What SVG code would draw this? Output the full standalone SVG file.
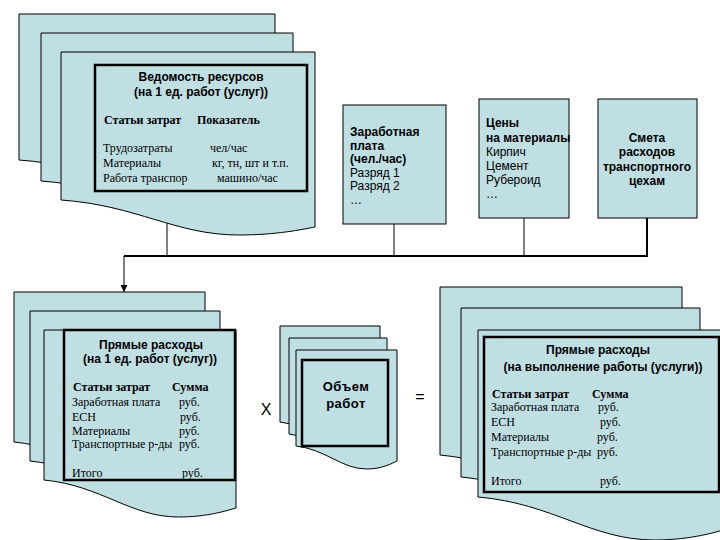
<svg xmlns="http://www.w3.org/2000/svg" width="720" height="540" viewBox="0 0 720 540">
<style>
.doc{fill:#BFDFE3;stroke:#000;stroke-width:1}
.inner{fill:#BFDFE3;stroke:#000;stroke-width:2.5}
.box{fill:#BFDFE3;stroke:#000;stroke-width:1}
.sb{font-family:"Liberation Sans",Arial,sans-serif;font-weight:bold;font-size:12px;fill:#000}
.sr{font-family:"Liberation Sans",Arial,sans-serif;font-size:12px;fill:#000}
.tb{font-family:"Liberation Serif","Times New Roman",serif;font-weight:bold;font-size:12px;fill:#000}
.tr{font-family:"Liberation Serif","Times New Roman",serif;font-size:12px;fill:#000}
.c{text-anchor:middle}
.ln{fill:none;stroke:#000;stroke-width:1}
.lt{fill:none;stroke:#000;stroke-width:2}
</style>
<defs>
<marker id="arr" viewBox="0 0 10 10" refX="10" refY="5" markerWidth="7" markerHeight="7" markerUnits="userSpaceOnUse" orient="auto">
<path d="M0,0 L10,5 L0,10 Z" fill="#000"/>
</marker>
</defs>

<g id="connectors">
<line class="ln" x1="167" y1="219" x2="167" y2="256"/>
<line class="ln" x1="394" y1="224" x2="394" y2="256"/>
<line class="ln" x1="524" y1="218" x2="524" y2="256"/>
<line class="lt" x1="647" y1="218" x2="647" y2="256"/>
<line class="lt" x1="124" y1="256" x2="648" y2="256"/>
<line class="ln" x1="124" y1="256" x2="124" y2="292" marker-end="url(#arr)"/>
</g>

<g id="resources">
<path class="doc" d="M19,14 H275 V187 C262.2,189.4 236.6,195 198.2,195 C134.2,195 95.8,165.3 19,160 Z"/>
<path class="doc" d="M41,33 H293 V208 C280.4,210.4 255.2,216 217.4,216 C154.4,216 116.6,186.3 41,181 Z"/>
<path class="doc" d="M61,52 H315 V227 C302.3,229.4 276.9,235 238.8,235 C175.3,235 137.2,205.3 61,200 Z"/>
<rect class="inner" x="95" y="65" width="212" height="126"/>
<text class="sb c" x="201" y="81">Ведомость ресурсов</text>
<text class="sb c" x="201" y="96">(на 1 ед. работ (услуг))</text>
<text class="tb" x="104" y="124">Статьи затрат</text>
<text class="tb" x="197" y="124">Показатель</text>
<text class="tr" x="103" y="152">Трудозатраты</text>
<text class="tr" x="103" y="167">Материалы</text>
<text class="tr" x="103" y="182">Работа транспор</text>
<text class="tr" x="210" y="152">чел/час</text>
<text class="tr" x="212" y="167">кг, тн, шт и т.п.</text>
<text class="tr" x="217" y="182">машино/час</text>
</g>

<g id="wage">
<rect class="box" x="343" y="105" width="103" height="119"/>
<text class="sb" x="350" y="136">Заработная</text>
<text class="sb" x="350" y="149.5">плата</text>
<text class="sb" x="350" y="163">(чел./час)</text>
<text class="sr" x="350" y="176.5">Разряд 1</text>
<text class="sr" x="350" y="190">Разряд 2</text>
<text class="sr" x="350" y="203.5">…</text>
</g>

<g id="prices">
<rect class="box" x="479" y="99" width="90" height="119"/>
<text class="sb" x="486" y="127">Цены</text>
<text class="sb" x="486" y="142">на материалы</text>
<text class="sr" x="486" y="156">Кирпич</text>
<text class="sr" x="486" y="170">Цемент</text>
<text class="sr" x="486" y="184">Рубероид</text>
<text class="sr" x="486" y="198">…</text>
</g>

<g id="estimate">
<rect class="box" x="598" y="99" width="99" height="119"/>
<text class="sb c" x="647" y="142">Смета</text>
<text class="sb c" x="647" y="156">расходов</text>
<text class="sb c" x="647" y="171">транспортного</text>
<text class="sb c" x="647" y="185">цехам</text>
</g>

<g id="direct-unit">
<path class="doc" d="M14,292 H205 V470 C195.45,472.7 176.35,479 147.7,479 C99.95,479 71.3,447.6 14,442 Z"/>
<path class="doc" d="M30,311 H220 V489 C210.5,491.7 191.5,498 163,498 C115.5,498 87,466.6 30,461 Z"/>
<path class="doc" d="M44,330 H236 V508 C226.4,510.7 207.2,517 178.4,517 C130.4,517 101.6,485.6 44,480 Z"/>
<rect class="inner" x="64" y="330" width="171" height="150"/>
<text class="sb c" x="151" y="349">Прямые расходы</text>
<text class="sb c" x="150" y="363">(на 1 ед. работ (услуг))</text>
<text class="tb" x="73" y="391">Статьи затрат</text>
<text class="tb" x="172" y="391">Сумма</text>
<text class="tr" x="72" y="406">Заработная плата</text>
<text class="tr" x="72" y="421">ЕСН</text>
<text class="tr" x="72" y="435">Материалы</text>
<text class="tr" x="72" y="448">Транспортные р-ды</text>
<text class="tr" x="72" y="477">Итого</text>
<text class="tr" x="179" y="406">руб.</text>
<text class="tr" x="180" y="421">руб.</text>
<text class="tr" x="179" y="435">руб.</text>
<text class="tr" x="179" y="448">руб.</text>
<text class="tr" x="182" y="477">руб.</text>
</g>

<text id="times" class="sr c" x="266" y="415" style="font-size:16px">X</text>

<g id="volume">
<path class="doc" d="M280,326 H380 V437 C375,439.4 365,445 350,445 C325,445 310,425.5 280,422 Z"/>
<path class="doc" d="M289,338 H387 V449 C382.1,451.4 372.3,457 357.6,457 C333.1,457 318.4,437.5 289,434 Z"/>
<path class="doc" d="M296,350 H397 V461 C391.95,463.4 381.85,469 366.7,469 C341.45,469 326.3,449.5 296,446 Z"/>
<rect class="inner" x="302" y="360" width="86" height="86"/>
<text class="sb c" x="346" y="391" style="font-size:13px;letter-spacing:0.5px">Объем</text>
<text class="sb c" x="346" y="408" style="font-size:13px;letter-spacing:0.5px">работ</text>
</g>

<text id="equals" class="sr c" x="420" y="402" style="font-size:16px">=</text>

<g id="direct-total">
<path class="doc" d="M440,287 H682 V486 C669.9,489.6 645.7,498 609.4,498 C548.9,498 512.6,461.5 440,455 Z"/>
<path class="doc" d="M461,308 H700 V508 C688.05,511.6 664.15,520 628.3,520 C568.55,520 532.7,483.5 461,477 Z"/>
<path class="doc" d="M478,330 H730 V528 C717.4,531.6 692.2,540 654.4,540 C591.4,540 553.6,503.5 478,497 Z"/>
<rect class="inner" x="484" y="337" width="235" height="155"/>
<text class="sb c" x="598" y="354">Прямые расходы</text>
<text class="sb c" x="603" y="371">(на выполнение работы (услуги))</text>
<text class="tb" x="492" y="398">Статьи затрат</text>
<text class="tb" x="592" y="398">Сумма</text>
<text class="tr" x="491" y="411">Заработная плата</text>
<text class="tr" x="491" y="426">ЕСН</text>
<text class="tr" x="491" y="441">Материалы</text>
<text class="tr" x="491" y="456">Транспортные р-ды</text>
<text class="tr" x="491" y="485">Итого</text>
<text class="tr" x="598" y="411">руб.</text>
<text class="tr" x="600" y="426">руб.</text>
<text class="tr" x="597" y="441">руб.</text>
<text class="tr" x="597" y="456">руб.</text>
<text class="tr" x="600" y="485">руб.</text>
</g>
</svg>
